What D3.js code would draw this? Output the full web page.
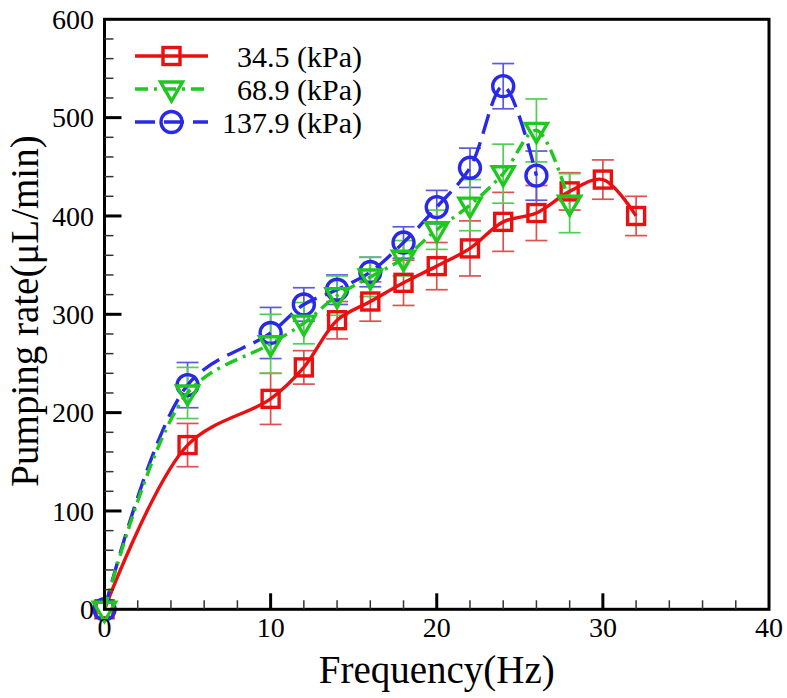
<!DOCTYPE html>
<html><head><meta charset="utf-8">
<script src="https://cdn.jsdelivr.net/npm/d3@7"></script>
<style>body{margin:0;background:#fff}svg{display:block}svg text{font-family:"Liberation Serif",serif}</style>
</head><body><svg id="c" width="787" height="698"></svg>
<script>
const xTicks=[0,10,20,30,40];
const yTicks=[0,100,200,300,400,500,600];
const freqRed=[0,5,10,12,14,16,18,20,22,24,26,28,30,32];
const rateRed=[0,167,214,246,294,313,332,349,367,394,403,425,437,400];
const errRed=[0,22,26,17,19,20,23,24,28,30,28,19,20,20];
const freqGreen=[0,5,10,12,14,16,18,20,22,24,26,28];
const rateGreen=[0,220,270,291,319,338,357,386,411,443,487,413];
const errGreen=[0,26,30,21,20,20,18,20,26,30,32,30];
const freqBlue=[0,5,10,12,14,16,18,20,22,24,26];
const rateBlue=[0,228,281,310,325,343,373,409,449,532,441];
const errBlue=[0,23,26,17,15,15,16,17,20,23,25];
const seriesNames=["34.5 (kPa)","68.9 (kPa)","137.9 (kPa)"];

const svg=d3.select("#c");
const x=d3.scaleLinear().domain([0,40]).range([104.5,769]);
const y=d3.scaleLinear().domain([0,600]).range([609.3,19.3]);

const series=[
 {name:seriesNames[0],fx:freqRed,v:rateRed,e:errRed,color:"#e81010",ecol:"#e05050",dash:null,marker:"square"},
 {name:seriesNames[2],fx:freqBlue,v:rateBlue,e:errBlue,color:"#2a2ae6",ecol:"#5a5ae0",dash:"20,9",marker:"circle"},
 {name:seriesNames[1],fx:freqGreen,v:rateGreen,e:errGreen,color:"#1ec81e",ecol:"#50d050",dash:"13,6,3,6",marker:"tri"}
];

function drawMarker(g,type,cx,cy,color){
  if(type==="square"){
    g.append("rect").attr("x",cx-8.5).attr("y",cy-8.5).attr("width",17).attr("height",17)
     .attr("fill","none").attr("stroke",color).attr("stroke-width",3.4);
  } else if(type==="circle"){
    g.append("circle").attr("cx",cx).attr("cy",cy).attr("r",10.5)
     .attr("fill","none").attr("stroke",color).attr("stroke-width",3.4);
  } else {
    g.append("path").attr("d",`M${cx-11},${cy-7}L${cx+11},${cy-7}L${cx},${cy+12}Z`)
     .attr("fill","none").attr("stroke",color).attr("stroke-width",3.4).attr("stroke-linejoin","miter");
  }
}

const plot=svg.append("g");
series.forEach(s=>{
  const g=plot.append("g");
  s.fx.forEach((f,i)=>{
    if(s.e[i]<=0) return;
    const px=x(f), y1=y(s.v[i]+s.e[i]), y2=y(s.v[i]-s.e[i]);
    g.append("line").attr("x1",px).attr("x2",px).attr("y1",y1).attr("y2",y2).attr("stroke",s.ecol).attr("stroke-width",1.7);
    [y1,y2].forEach(yy=>g.append("line").attr("x1",px-11).attr("x2",px+11).attr("y1",yy).attr("y2",yy).attr("stroke",s.ecol).attr("stroke-width",1.7));
  });
});
series.forEach(s=>{
  const pts=s.fx.map((f,i)=>[x(f),y(s.v[i])]);
  const line=d3.line().curve(d3.curveCatmullRom.alpha(0.5));
  plot.append("path").attr("d",line(pts)).attr("fill","none").attr("stroke",s.color)
    .attr("stroke-width",3.4).attr("stroke-dasharray",s.dash);
  const mg=plot.append("g");
  pts.forEach(p=>drawMarker(mg,s.marker,p[0],p[1],s.color));
});

const fr=svg.append("g");
fr.append("rect").attr("x",x(0)).attr("y",y(600)).attr("width",x(40)-x(0)).attr("height",y(0)-y(600))
  .attr("fill","none").attr("stroke","#000").attr("stroke-width",3);
d3.range(0,41,2).forEach(v=>{
  const major=v%10===0;
  if(v===0||v===40) return;
  fr.append("line").attr("x1",x(v)).attr("x2",x(v)).attr("y1",y(0)).attr("y2",y(0)-(major?16:9))
    .attr("stroke",major?"#000":"#333").attr("stroke-width",major?3:1.5);
});
d3.range(0,601,20).forEach(v=>{
  const major=v%100===0;
  if(v===0||v===600) return;
  fr.append("line").attr("x1",x(0)).attr("x2",x(0)+(major?17:9)).attr("y1",y(v)).attr("y2",y(v))
    .attr("stroke",major?"#000":"#333").attr("stroke-width",major?3:1.5);
});
xTicks.forEach(v=>fr.append("text").attr("x",x(v)).attr("y",637).attr("text-anchor","middle")
  .attr("font-size",28).text(v));
yTicks.forEach(v=>fr.append("text").attr("x",94).attr("y",y(v)).attr("dy","0.35em").attr("text-anchor","end")
  .attr("font-size",28).text(v));
svg.append("text").attr("x",(x(0)+x(40))/2).attr("y",683).attr("text-anchor","middle")
  .attr("font-size",39).text("Frequency(Hz)");
svg.append("text").attr("transform","translate(38,311) rotate(-90)").attr("text-anchor","middle")
  .attr("font-size",39).text("Pumping rate(μL/min)");

const legendOrder=[series[0],series[2],series[1]];
const rowsY=[56,89,122];
const lg=svg.append("g");
legendOrder.forEach((s,i)=>{
  const ly=rowsY[i];
  lg.append("line").attr("x1",135).attr("x2",208).attr("y1",ly).attr("y2",ly).attr("stroke",s.color)
    .attr("stroke-width",3.4).attr("stroke-dasharray",s.dash);
  drawMarker(lg,s.marker,171.5,ly,s.color);
  lg.append("text").attr("x",362).attr("y",ly).attr("dy","0.35em").attr("text-anchor","end")
    .attr("font-size",30).text(s.name);
});
</script></body></html>
